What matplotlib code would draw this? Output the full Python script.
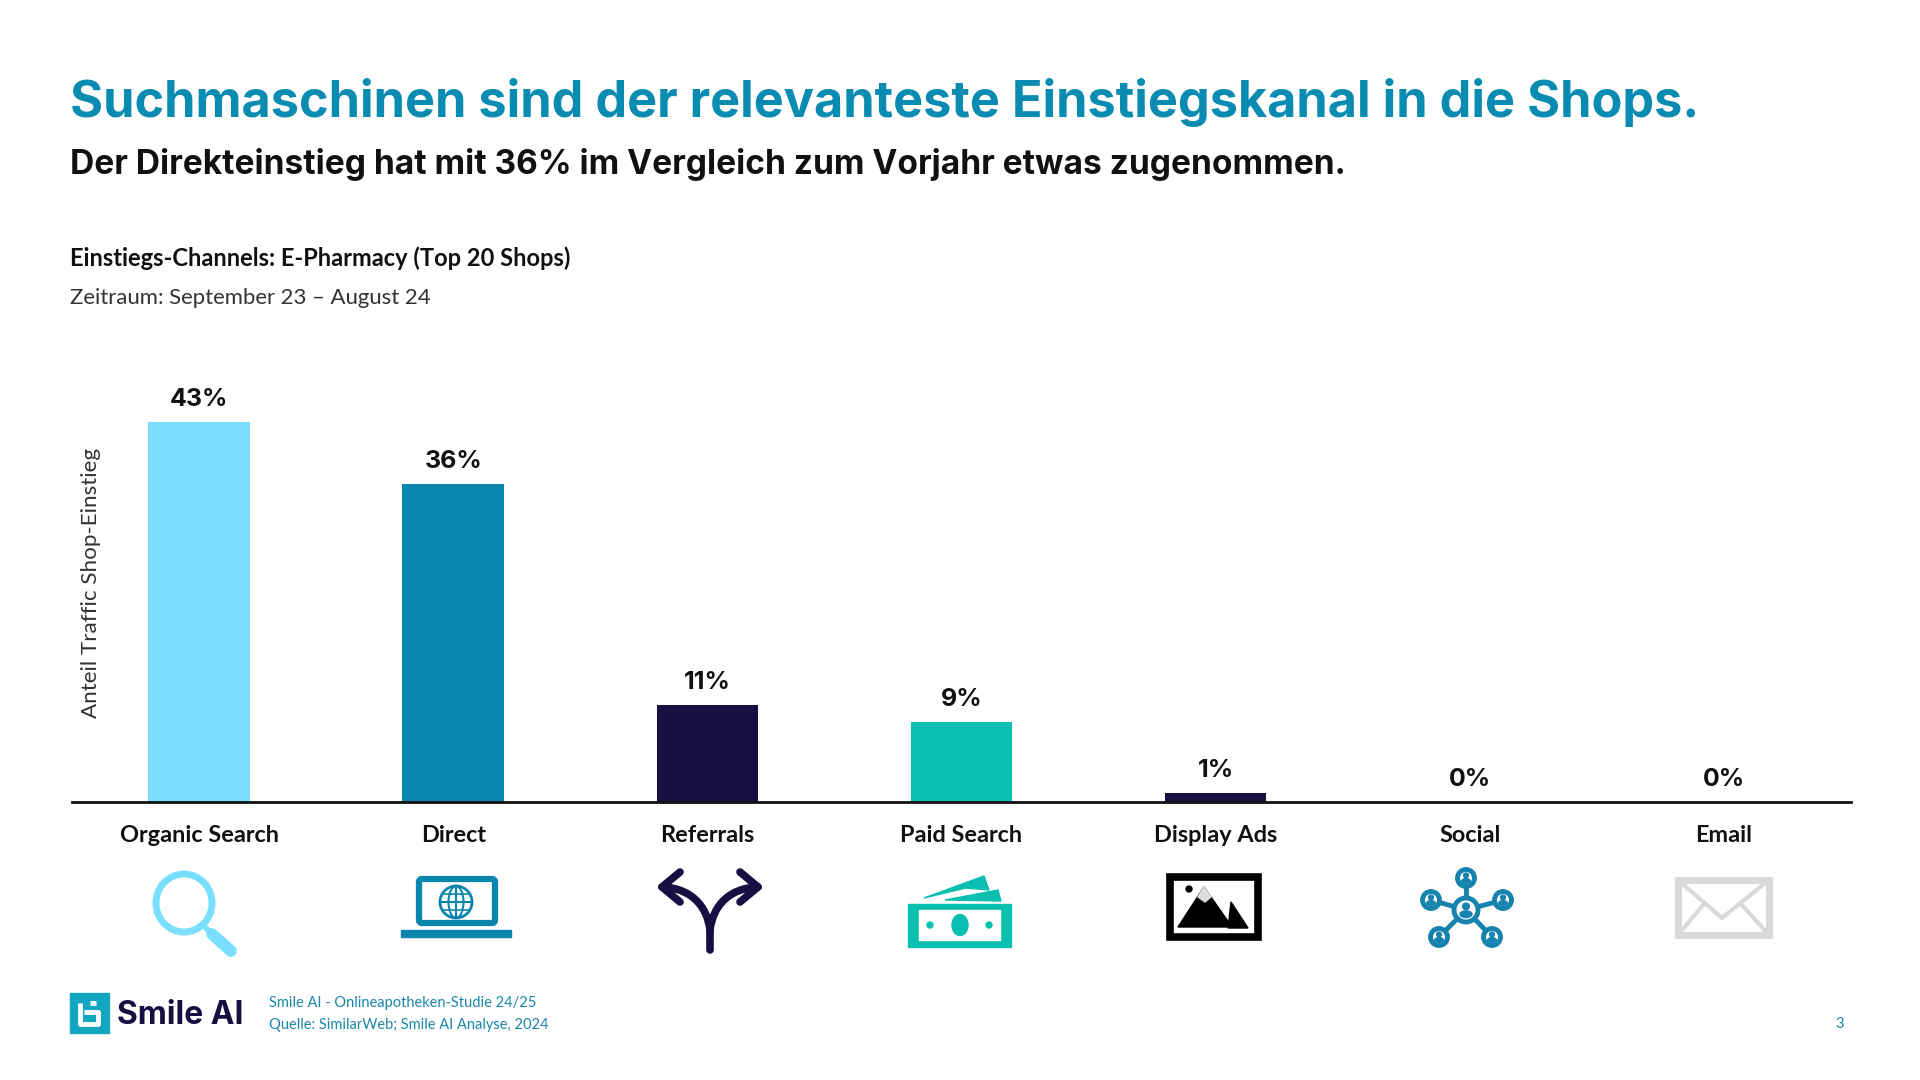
import numpy as np
import matplotlib
matplotlib.use("Agg")
import matplotlib.pyplot as plt
from matplotlib.patches import Rectangle, Ellipse, Polygon, Circle, PathPatch, FancyBboxPatch
from matplotlib.path import Path

categories = ["Organic Search", "Direct", "Referrals", "Paid Search", "Display Ads", "Social", "Email"]
values = [43, 36, 11, 9, 1, 0, 0]
colors = ["#7ADFFF", "#0A86AE", "#160F41", "#0ABFB0", "#160F41", "#1583AE", "#D9D9D9"]
title = "Suchmaschinen sind der relevanteste Einstiegskanal in die Shops."
subtitle = "Der Direkteinstieg hat mit 36% im Vergleich zum Vorjahr etwas zugenommen."
chart_title = "Einstiegs-Channels: E-Pharmacy (Top 20 Shops)"
period = "Zeitraum: September 23 – August 24"
y_label = "Anteil Traffic Shop-Einstieg"
footer = ["Smile AI - Onlineapotheken-Studie 24/25", "Quelle: SimilarWeb; Smile AI Analyse, 2024"]

W, H = 1920, 1080
fig = plt.figure(figsize=(W / 100, H / 100), dpi=100, facecolor="white")

# ---- chart
L, R, B, T = 72, 1851, 802, 360
ax = fig.add_axes([L / W, 1 - B / H, (R - L) / W, (B - T) / H])
x = np.arange(len(categories))
bars = ax.bar(x, values, width=0.40, color=colors)
ax.set_xlim(-0.5, 6.5)
ax.set_ylim(0, 50)
for s in ("top", "left", "right"):
    ax.spines[s].set_visible(False)
ax.spines["bottom"].set_linewidth(2)
ax.spines["bottom"].set_color("#111111")
ax.set_yticks([])
ax.set_xticks(x)
ax.set_xticklabels(categories, family="Lato", fontweight="bold", fontsize=16.9, color="#111111")
ax.tick_params(axis="x", length=0, pad=16.5)
for xi, v in zip(x, values):
    ax.annotate(f"{v}%", (xi, v), xytext=(0, 8), textcoords="offset points", ha="center", va="bottom",
                family="Inter", fontweight="bold", fontsize=18, color="#111111")

# ---- overlay in pixel units for slide text and pictograms
ov = fig.add_axes([0, 0, 1, 1], facecolor="none")
ov.set_xlim(0, W)
ov.set_ylim(H, 0)
ov.axis("off")

ov.text(70, 102.5, title, family="Inter", fontweight="bold", fontsize=36.3, color="#0A8CB2", va="center")
ov.text(70, 164.5, subtitle, family="Inter", fontweight="bold", fontsize=24.1, color="#111111", va="center")
ov.text(70, 258, chart_title, family="Lato", fontweight="bold", fontsize=17, color="#111111", va="center")
ov.text(70, 298, period, family="Lato", fontsize=15.9, color="#333333", va="center")
ov.text(91, 583, y_label, family="Lato", fontsize=16.1, color="#333333", rotation=90, ha="center", va="center")
ov.text(269, 1003.5, footer[0], family="Lato", fontsize=10.5, color="#1C86A8", va="center")
ov.text(269, 1024.5, footer[1], family="Lato", fontsize=10.5, color="#1C86A8", va="center")
ov.text(1840, 1024.5, "3", family="Lato", fontsize=10.5, color="#1C86A8", ha="center", va="center")
ov.text(117, 1016, "Smile AI", family="Inter", fontweight="bold", fontsize=22.9, color="#160F41", va="center")

# logo
ov.add_patch(Rectangle((70, 993), 39, 40, color="#12A6C0"))
ov.plot([80, 80, 98, 98, 84], [1003, 1024, 1024, 1012, 1012], color="white", lw=3.5, solid_capstyle="butt")
ov.plot([90, 96], [1003, 1003], color="white", lw=3.5, solid_capstyle="butt")

# magnifier
c = colors[0]
ov.add_patch(Ellipse((184, 903), 56, 58, fill=False, ec=c, lw=5))
ov.plot([203, 214], [925, 936], color=c, lw=4, solid_capstyle="round")
ov.plot([212, 231], [934, 951], color=c, lw=8.5, solid_capstyle="round")

# laptop
c = colors[1]
ov.add_patch(FancyBboxPatch((419, 879), 76, 44, boxstyle="round,pad=0,rounding_size=3", fc="white", ec=c, lw=4.5))
ov.add_patch(Rectangle((401, 930), 110, 6.5, color=c))
ov.add_patch(Circle((456, 902), 16, fill=False, ec=c, lw=2))
ov.add_patch(Ellipse((456, 902), 15, 32, fill=False, ec=c, lw=1.5))
ov.plot([440, 472], [902, 902], color=c, lw=1.5)
ov.plot([456, 456], [886, 918], color=c, lw=1.5)
ov.plot([443, 469], [894, 894], color=c, lw=1.2)
ov.plot([443, 469], [910, 910], color=c, lw=1.2)

# split arrow
c = colors[2]
lw = 5.5
ov.plot([710, 710], [925, 950], color=c, lw=lw, solid_capstyle="round")
for sx in (-1, 1):
    verts = [(710, 930), (710 + sx * 3, 905), (710 + sx * 20, 888), (710 + sx * 48, 887)]
    ov.add_patch(PathPatch(Path(verts, [Path.MOVETO, Path.CURVE4, Path.CURVE4, Path.CURVE4]),
                           fill=False, ec=c, lw=lw, capstyle="round"))
    ov.plot([710 + sx * 30, 710 + sx * 48, 710 + sx * 30], [872, 887, 902], color=c, lw=lw,
            solid_capstyle="round", solid_joinstyle="round")

# banknotes
c = colors[3]
ov.add_patch(Rectangle((908, 904), 103, 43, color=c))
ov.add_patch(Rectangle((919, 910), 81, 30, color="white"))
ov.add_patch(Ellipse((960, 925), 16, 21, color=c))
ov.add_patch(Circle((930, 925), 3, color=c))
ov.add_patch(Circle((989, 925), 3, color=c))
ov.add_patch(Polygon([(924, 898), (984, 876), (989, 890), (966, 888)], color=c))
ov.add_patch(Polygon([(945, 900), (998, 890), (1001, 901)], color=c))

# image frame
ov.add_patch(Rectangle((1170, 877), 88, 60, fc="white", ec="black", lw=5.5))
ov.add_patch(Polygon([(1178, 927), (1204, 887), (1232, 927)], color="black"))
ov.add_patch(Polygon([(1228, 928), (1231, 902), (1248, 928)], color="black"))
ov.add_patch(Polygon([(1198, 897), (1204, 887), (1211, 897), (1205, 902)], color="#DDDDDD"))
ov.add_patch(Circle((1189, 889), 3, color="black"))

# social network
c = colors[5]
hub = (1466, 910)
nodes = [(1466, 878), (1431, 900), (1503, 900), (1439, 937), (1492, 937)]
for n in nodes:
    ov.plot([hub[0], n[0]], [hub[1], n[1]], color=c, lw=3.5)
for n, r in zip(nodes + [hub], [8.5] * 5 + [12]):
    ov.add_patch(Circle(n, r, fc="white", ec=c, lw=3.5, zorder=3))
    ov.add_patch(Circle((n[0], n[1] - r * 0.3), r * 0.28, color=c, zorder=4))
    ov.add_patch(Ellipse((n[0], n[1] + r * 0.35), r * 1.0, r * 0.55, color=c, zorder=4))

# envelope
c = colors[6]
ov.add_patch(Rectangle((1678, 880), 91, 55, fc="white", ec=c, lw=5))
ov.plot([1678, 1722, 1769], [880, 918, 880], color=c, lw=3)
ov.plot([1678, 1704], [935, 904], color=c, lw=3)
ov.plot([1769, 1741], [935, 904], color=c, lw=3)

fig.savefig("out.png", dpi=100)
